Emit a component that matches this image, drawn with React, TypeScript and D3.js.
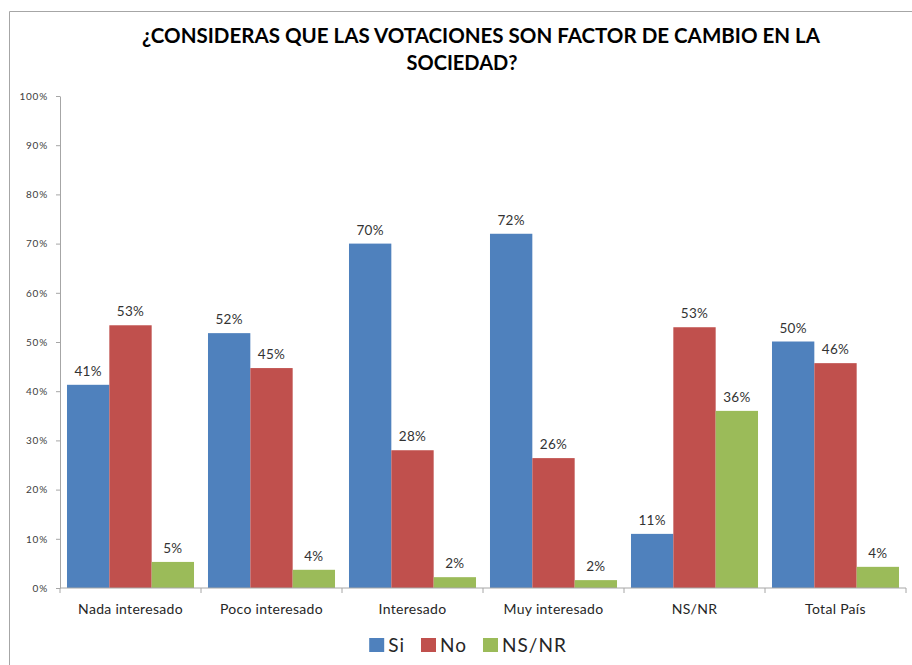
import React, { useEffect, useRef } from "react";
import * as d3 from "d3";

const categories = ["Nada interesado", "Poco interesado", "Interesado", "Muy interesado", "NS/NR", "Total País"];
const seriesNames = ["Si", "No", "NS/NR"];
const siValues = [41.3, 51.8, 70.0, 72.0, 11.0, 50.1];
const noValues = [53.4, 44.7, 28.0, 26.4, 53.0, 45.7];
const nsnrValues = [5.3, 3.7, 2.2, 1.6, 36.0, 4.3];
const yTicks = [0, 10, 20, 30, 40, 50, 60, 70, 80, 90, 100];
const colors = ["#4F81BD", "#C0504D", "#9BBB59"];
const titleLines = ["¿CONSIDERAS QUE LAS VOTACIONES SON FACTOR DE CAMBIO EN LA", "SOCIEDAD?"];

const width = 912;
const height = 665;
const margin = { top: 96, right: 6, bottom: 77, left: 60 };
const font = "Lato, 'Open Sans', sans-serif";

export default function App() {
  const ref = useRef<SVGSVGElement>(null);

  useEffect(() => {
    const svg = d3.select(ref.current);
    svg.selectAll("*").remove();

    const values = [siValues, noValues, nsnrValues];

    // frame (only left and top edges show)
    svg.append("line").attr("x1", 9.5).attr("x2", 9.5).attr("y1", 11.5).attr("y2", height)
      .attr("stroke", "#a6a6a6");
    svg.append("line").attr("x1", 9.5).attr("x2", width).attr("y1", 11.5).attr("y2", 11.5)
      .attr("stroke", "#a6a6a6");

    // title
    svg.append("text")
      .attr("x", 481).attr("y", 43)
      .attr("text-anchor", "middle")
      .attr("textLength", 678).attr("lengthAdjust", "spacingAndGlyphs")
      .style("font", `bold 20px ${font}`).style("fill", "#000")
      .text(titleLines[0]);
    svg.append("text")
      .attr("x", 462).attr("y", 70)
      .attr("text-anchor", "middle")
      .attr("textLength", 111).attr("lengthAdjust", "spacingAndGlyphs")
      .style("font", `bold 20px ${font}`).style("fill", "#000")
      .text(titleLines[1]);

    const y = d3.scaleLinear().domain([0, 100]).range([height - margin.bottom, margin.top]);
    const x = d3.scaleBand().domain(categories).range([margin.left, width - margin.right]);
    const xs = d3.scaleBand().domain(seriesNames).range([0, x.bandwidth()]).paddingOuter(0.165);

    // y axis
    const gy = svg.append("g")
      .attr("transform", `translate(${margin.left},0)`)
      .call(d3.axisLeft(y).tickValues(yTicks).tickSize(4).tickSizeOuter(0).tickFormat((d) => `${d}%`));
    gy.select(".domain").attr("stroke", "#a6a6a6");
    gy.selectAll(".tick line").attr("stroke", "#a6a6a6");
    gy.selectAll(".tick text")
      .attr("x", -12)
      .style("font", `10px ${font}`)
      .style("letter-spacing", "0.8px")
      .style("fill", "#404040");

    // bars
    seriesNames.forEach((s, si) => {
      const g = svg.append("g");
      g.selectAll("rect")
        .data(categories)
        .join("rect")
        .attr("x", (c) => (x(c) as number) + (xs(s) as number))
        .attr("y", (c, i) => y(values[si][i]))
        .attr("width", xs.bandwidth())
        .attr("height", (c, i) => y(0) - y(values[si][i]))
        .attr("fill", colors[si]);
      g.selectAll("text")
        .data(categories)
        .join("text")
        .attr("x", (c) => (x(c) as number) + (xs(s) as number) + xs.bandwidth() / 2)
        .attr("y", (c, i) => y(values[si][i]) - 9)
        .attr("text-anchor", "middle")
        .style("font", `13.5px ${font}`)
        .style("letter-spacing", "0.3px")
        .style("fill", "#333")
        .text((c, i) => `${Math.round(values[si][i])}%`);
    });

    // x axis
    const gx = svg.append("g").attr("transform", `translate(0,${y(0)})`);
    gx.append("line")
      .attr("x1", margin.left).attr("x2", width - margin.right)
      .attr("stroke", "#a6a6a6");
    const bounds = categories.map((c) => x(c) as number).concat([width - margin.right]);
    gx.selectAll(".bt")
      .data(bounds)
      .join("line")
      .attr("class", "bt")
      .attr("x1", (d) => d).attr("x2", (d) => d)
      .attr("y1", 0).attr("y2", 5)
      .attr("stroke", "#a6a6a6");
    gx.selectAll(".cl")
      .data(categories)
      .join("text")
      .attr("class", "cl")
      .attr("x", (c) => (x(c) as number) + x.bandwidth() / 2)
      .attr("y", 26)
      .attr("text-anchor", "middle")
      .style("font", `14px ${font}`)
      .style("letter-spacing", "0.3px")
      .style("fill", "#262626")
      .text((c) => c);

    // legend
    const lg = svg.append("g");
    let cx = 0;
    seriesNames.forEach((s, i) => {
      lg.append("rect").attr("x", cx).attr("y", -14).attr("width", 15).attr("height", 14).attr("fill", colors[i]);
      const t = lg.append("text")
        .attr("x", cx + 19).attr("y", 0)
        .style("font", `19px ${font}`)
        .style("letter-spacing", "1px")
        .style("fill", "#262626")
        .text(s);
      const w = (t.node() as SVGTextElement).getComputedTextLength();
      cx += 19 + w + (i < seriesNames.length - 1 ? 16 : 0);
    });
    lg.attr("transform", `translate(${468 - cx / 2},652)`);
  }, []);

  return (
    <svg
      ref={ref}
      width={width}
      height={height}
      style={{ position: "absolute", left: 0, top: 0, background: "#fff" }}
    />
  );
}
